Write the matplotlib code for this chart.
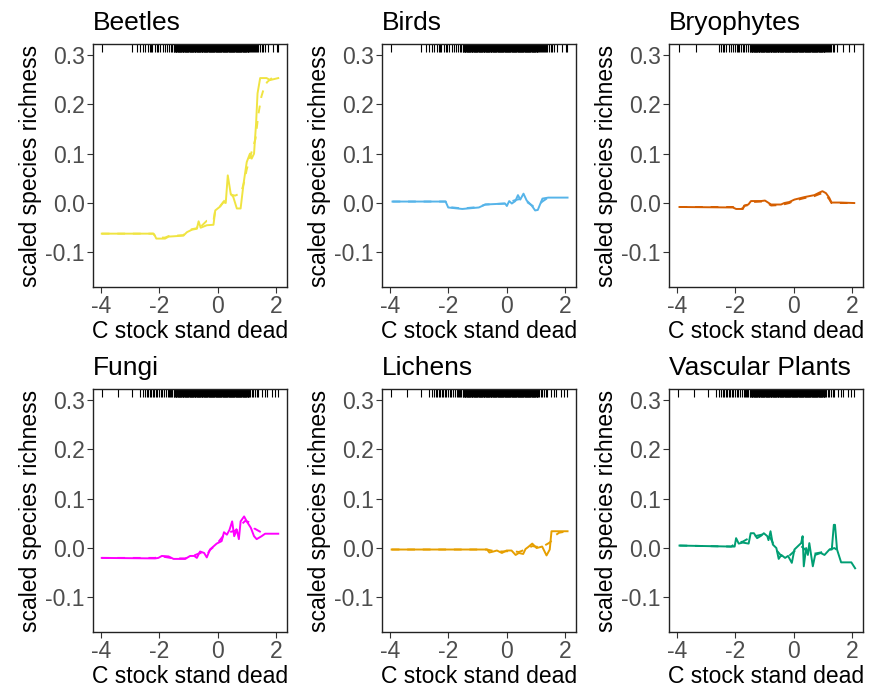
import matplotlib
matplotlib.use("Agg")
import matplotlib.pyplot as plt
import matplotlib.transforms as mtransforms

plt.rcParams['font.family'] = ['Liberation Sans', 'DejaVu Sans']
plt.rcParams['axes.unicode_minus'] = False

# ---------------- data ----------------
taxa = ["Beetles", "Birds", "Bryophytes", "Fungi", "Lichens", "Vascular Plants"]
colors = ["#F0E442", "#56B4E9", "#D55E00", "#FF00FF", "#E69F00", "#009E73"]

yticks = [-0.1, 0.0, 0.1, 0.2, 0.3]
xticks = [-4, -2, 0, 2]

beetles_x = [-3.97, -2.2, -2.15, -2.1, -2.0, -1.8, -1.68, -1.17, -1.05, -0.88, -0.71, -0.65, -0.58, -0.37,
             -0.14, -0.08, 0.09, 0.2, 0.28, 0.35, 0.45, 0.54, 0.66, 0.79, 0.89, 1.0, 1.11, 1.17, 1.25,
             1.32, 1.37, 1.46, 1.68, 1.8, 2.08]
beetles_y = [-0.062, -0.062, -0.066, -0.072, -0.072, -0.072, -0.068, -0.066, -0.059, -0.054, -0.052, -0.037,
             -0.05, -0.045, -0.044, -0.015, -0.007, 0.002, 0.0, 0.056, 0.019, 0.012, -0.011, -0.011, 0.039,
             0.083, 0.1, 0.09, 0.1, 0.161, 0.222, 0.253, 0.253, 0.249, 0.253]
beetles_dx = [-3.97, -2.2, -2.1, -1.8, -1.68, -1.17, -1.05, -0.88, -0.71, -0.65, -0.58, -0.37, -0.14, -0.08,
              0.09, 0.2, 0.3, 0.45, 0.6, 0.8, 0.9, 1.0, 1.1, 1.2, 1.3, 1.4, 1.5, 1.6, 1.7, 1.8, 1.9, 2.0, 2.05]
beetles_dy = [-0.062, -0.062, -0.07, -0.07, -0.067, -0.065, -0.058, -0.053, -0.051, -0.042, -0.048, -0.036,
              -0.036, -0.014, -0.006, 0.002, 0.01, 0.017, 0.015, 0.02, 0.04, 0.068, 0.09, 0.11, 0.13, 0.18,
              0.215, 0.235, 0.245, 0.25, 0.255, 0.262, 0.263]

birds_x = [-3.91, -2.09, -2.0, -1.52, -0.95, -0.73, -0.05, 0.01, 0.09, 0.18, 0.3, 0.39, 0.47, 0.58, 0.69,
           0.86, 0.98, 1.07, 1.23, 1.43, 2.09]
birds_y = [0.003, 0.003, -0.009, -0.012, -0.009, -0.003, -0.001, -0.006, 0.004, -0.001, 0.004, 0.016, 0.007,
           0.019, 0.005, -0.005, -0.015, -0.014, 0.009, 0.011, 0.011]
birds_dx = [-3.91, -2.09, -2.0, -1.52, -0.95, -0.73, -0.05, 0.1, 0.3, 0.45, 0.6, 0.75, 0.9, 1.05, 1.25, 1.4]
birds_dy = [0.003, 0.003, -0.008, -0.011, -0.008, -0.003, -0.001, 0.002, 0.006, 0.008, 0.006, 0.0, -0.006,
            -0.005, 0.004, 0.01]

bryo_x = [-3.91, -2.08, -1.97, -1.74, -1.69, -1.55, -1.46, -1.12, -0.98, -0.77, -0.43, -0.32, -0.15, 0.03,
          0.37, 0.71, 0.88, 0.99, 1.11, 1.22, 1.3, 1.62, 2.08]
bryo_y = [-0.008, -0.009, -0.012, -0.012, -0.005, -0.003, 0.004, 0.004, 0.005, -0.003, -0.003, 0.0, 0.002,
          0.007, 0.012, 0.016, 0.021, 0.024, 0.02, 0.011, 0.001, 0.001, 0.0]
bryo_dx = [-3.91, -2.08, -1.97, -1.74, -1.69, -1.55, -1.46, -1.12, -0.95, -0.77, -0.43, -0.15, 0.03, 0.37,
           0.71, 0.88, 0.99, 1.11, 1.22, 1.3, 1.62, 2.08]
bryo_dy = [-0.008, -0.008, -0.011, -0.011, -0.006, -0.004, 0.002, 0.003, 0.002, -0.005, -0.004, 0.0, 0.005,
           0.01, 0.014, 0.018, 0.02, 0.016, 0.008, 0.0, 0.0, 0.0]

fungi_x = [-3.97, -2.14, -2.03, -1.91, -1.68, -1.51, -1.11, -0.94, -0.8, -0.71, -0.6, -0.46, -0.37, -0.26,
           -0.03, 0.14, 0.22, 0.32, 0.41, 0.5, 0.57, 0.66, 0.73, 0.79, 0.91, 1.0, 1.14, 1.25, 1.34, 1.51,
           1.63, 2.08]
fungi_y = [-0.02, -0.021, -0.02, -0.016, -0.017, -0.022, -0.022, -0.016, -0.016, -0.02, -0.007, -0.01, -0.019,
           -0.003, 0.009, 0.014, 0.032, 0.027, 0.037, 0.054, 0.024, 0.037, 0.018, 0.054, 0.064, 0.054, 0.041,
           0.024, 0.018, 0.024, 0.029, 0.029]
fungi_dx = [-3.97, -2.14, -1.91, -1.51, -1.11, -0.8, -0.6, -0.37, -0.26, -0.03, 0.2, 0.4, 0.6, 0.8, 0.95,
            1.1, 1.25, 1.4, 1.55, 1.65]
fungi_dy = [-0.02, -0.02, -0.017, -0.021, -0.021, -0.015, -0.01, -0.014, -0.004, 0.008, 0.025, 0.032, 0.035,
            0.047, 0.055, 0.052, 0.04, 0.035, 0.03, 0.029]

lichens_x = [-3.94, -0.67, -0.59, -0.45, -0.33, -0.16, 0.0, 0.17, 0.31, 0.42, 0.57, 0.65, 0.74, 0.88, 1.03,
             1.22, 1.37, 1.48, 1.54, 1.77, 2.09]
lichens_y = [-0.003, -0.003, -0.009, -0.007, -0.005, -0.01, -0.005, -0.005, -0.014, -0.01, -0.012, -0.002,
             0.002, 0.009, 0.0, 0.003, -0.015, -0.003, 0.034, 0.034, 0.034]
lichens_dx = [-3.94, -0.67, -0.45, -0.16, 0.17, 0.42, 0.65, 0.88, 1.1, 1.3, 1.42, 1.5, 1.63, 1.8, 2.09]
lichens_dy = [-0.003, -0.003, -0.006, -0.007, -0.006, -0.008, -0.003, 0.004, 0.002, 0.005, 0.009, 0.012,
              0.024, 0.031, 0.034]

vasc_x = [-3.91, -2.14, -2.02, -1.97, -1.88, -1.74, -1.54, -1.47, -1.36, -1.25, -1.11, -1.02, -0.9, -0.86,
          -0.79, -0.71, -0.59, -0.51, -0.42, -0.29, -0.19, -0.06, 0.03, 0.17, 0.26, 0.31, 0.35, 0.43, 0.49,
          0.54, 0.66, 0.74, 0.93, 1.06, 1.23, 1.31, 1.38, 1.42, 1.49, 1.63, 1.98, 2.11]
vasc_y = [0.005, 0.003, 0.003, 0.02, 0.009, 0.011, 0.009, 0.03, 0.03, 0.02, 0.025, 0.03, 0.024, 0.016, 0.034,
          0.007, 0.0, -0.022, -0.014, -0.02, -0.016, -0.03, -0.003, 0.005, 0.01, 0.024, -0.037, 0.0, -0.014,
          0.01, -0.037, -0.014, -0.01, -0.014, -0.003, -0.003, 0.047, 0.047, -0.003, -0.029, -0.029, -0.041]
vasc_dx = [-3.91, -2.14, -1.97, -1.74, -1.47, -1.25, -1.02, -0.79, -0.59, -0.42, -0.19, 0.03, 0.26, 0.43,
           0.66, 0.93, 1.23, 1.4, 1.66]
vasc_dy = [0.005, 0.003, 0.01, 0.013, 0.022, 0.025, 0.028, 0.02, -0.004, -0.016, -0.018, -0.006, 0.004,
           -0.005, -0.012, -0.009, -0.003, 0.0, -0.011]

# rug positions (observed x values)
rug_core = [-1.50, -1.46, -1.43, -1.39, -1.35, -1.31, -1.28, -1.24, -1.20, -1.17, -1.13, -1.09, -1.05, -1.02,
            -0.98, -0.94, -0.91, -0.87, -0.83, -0.79, -0.76, -0.72, -0.68, -0.65, -0.61, -0.57, -0.53, -0.50,
            -0.46, -0.42, -0.39, -0.35, -0.31, -0.27, -0.24, -0.20, -0.16, -0.13, -0.09, -0.05, -0.01, 0.02,
            0.06, 0.10, 0.13, 0.17, 0.21, 0.25, 0.28, 0.32, 0.36, 0.39, 0.43, 0.47, 0.51, 0.54, 0.58, 0.62,
            0.65, 0.69, 0.73, 0.77, 0.80, 0.84, 0.88, 0.91, 0.95, 0.99, 1.03, 1.06, 1.10]
rug_core_b = [-1.48, -1.44, -1.41, -1.37, -1.33, -1.30, -1.26, -1.22, -1.18, -1.15, -1.11, -1.07, -1.04, -1.00,
              -0.96, -0.92, -0.89, -0.85, -0.81, -0.78, -0.74, -0.70, -0.66, -0.63, -0.59, -0.55, -0.52, -0.48,
              -0.44, -0.40, -0.37, -0.33, -0.29, -0.26, -0.22, -0.18, -0.14, -0.11, -0.07, -0.03, 0.00, 0.04,
              0.08, 0.11, 0.15, 0.19, 0.23, 0.26, 0.30, 0.34, 0.38, 0.41, 0.45, 0.49, 0.52, 0.56, 0.60, 0.64,
              0.67, 0.71, 0.75, 0.78, 0.82, 0.86, 0.90, 0.93, 0.97, 1.01, 1.04, 1.08]
rug_top_extra = [-3.97, -2.94, -2.77, -2.65, -2.54, -2.48, -2.37, -2.33, -2.29, -2.25, -2.14, -2.08, -2.03,
                 -1.97, -1.86, -1.80, -1.75, -1.66, -1.60, -1.55, 1.14, 1.17, 1.21, 1.25, 1.29, 1.32, 1.36,
                 1.40, 1.44, 1.51, 1.57, 1.63, 1.74, 1.91, 2.03, 2.08]
rug_bryo_extra = [-3.93, -3.34, -2.54, -2.48, -2.42, -2.37, -2.31, -2.20, -2.14, -2.08, -2.01, -1.95, -1.91,
                  -1.86, -1.80, -1.75, -1.69, -1.63, -1.57, 1.14, 1.17, 1.21, 1.25, 1.29, 1.34, 1.40, 1.50,
                  1.68, 1.90, 2.07]
rug_bottom_extra = [-3.97, -3.40, -2.94, -2.65, -2.54, -2.48, -2.42, -2.37, -2.31, -2.27, -2.22, -2.17, -2.12,
                    -2.06, -2.01, -1.95, -1.90, -1.84, -1.78, -1.70, -1.66, -1.63, -1.59, -1.55, 1.17, 1.22,
                    1.28, 1.34, 1.40, 1.51, 1.63, 1.68, 1.86, 1.97, 2.08]

solid_x = [beetles_x, birds_x, bryo_x, fungi_x, lichens_x, vasc_x]
solid_y = [beetles_y, birds_y, bryo_y, fungi_y, lichens_y, vasc_y]
dash_x = [beetles_dx, birds_dx, bryo_dx, fungi_dx, lichens_dx, vasc_dx]
dash_y = [beetles_dy, birds_dy, bryo_dy, fungi_dy, lichens_dy, vasc_dy]
core = rug_core + rug_core_b
rugs = [core + rug_top_extra, core + rug_top_extra, core + rug_bryo_extra,
        core + rug_bottom_extra, core + rug_bottom_extra, core + rug_bottom_extra]

# ---------------- layout ----------------
W, H = 869, 686
fig = plt.figure(figsize=(W / 100, H / 100), dpi=100)
col_left = [93, 382, 669]
row_top = [44, 389]
aw, ah = 194, 243

for i, name in enumerate(taxa):
    r, c = divmod(i, 3)
    l = col_left[c]
    t = row_top[r]
    ax = fig.add_axes([l / W, 1 - (t + ah) / H, aw / W, ah / H])
    ax.set_xlim(-4.27, 2.38)
    ax.set_ylim(-0.170, 0.322)

    ax.plot(dash_x[i], dash_y[i], color=colors[i], lw=1.4, linestyle=(0, (4, 4)), solid_capstyle='butt')
    ax.plot(solid_x[i], solid_y[i], color=colors[i], lw=1.4)

    trans = mtransforms.blended_transform_factory(ax.transData, ax.transAxes)
    ax.vlines(rugs[i], 0.968, 1.0, transform=trans, color='black', lw=0.8)

    ax.set_xticks(xticks)
    ax.set_yticks(yticks)
    ax.set_xticklabels([str(v) for v in xticks])
    ax.set_yticklabels([f"{v:.1f}" for v in yticks])
    ax.tick_params(axis='both', colors='#333333', labelcolor='#4D4D4D', labelsize=16.5,
                   length=4, width=0.8, pad=2)
    for sp in ax.spines.values():
        sp.set_color('#222222')
        sp.set_linewidth(1.0)
    ax.set_xlabel("C stock stand dead", fontsize=16.5, color='black', labelpad=1)
    ax.set_ylabel("scaled species richness", fontsize=16.5, color='black', labelpad=2)
    ax.set_title(name, loc='left', fontsize=19, color='black', pad=10)

fig.savefig("out.png", dpi=100, facecolor='white')
